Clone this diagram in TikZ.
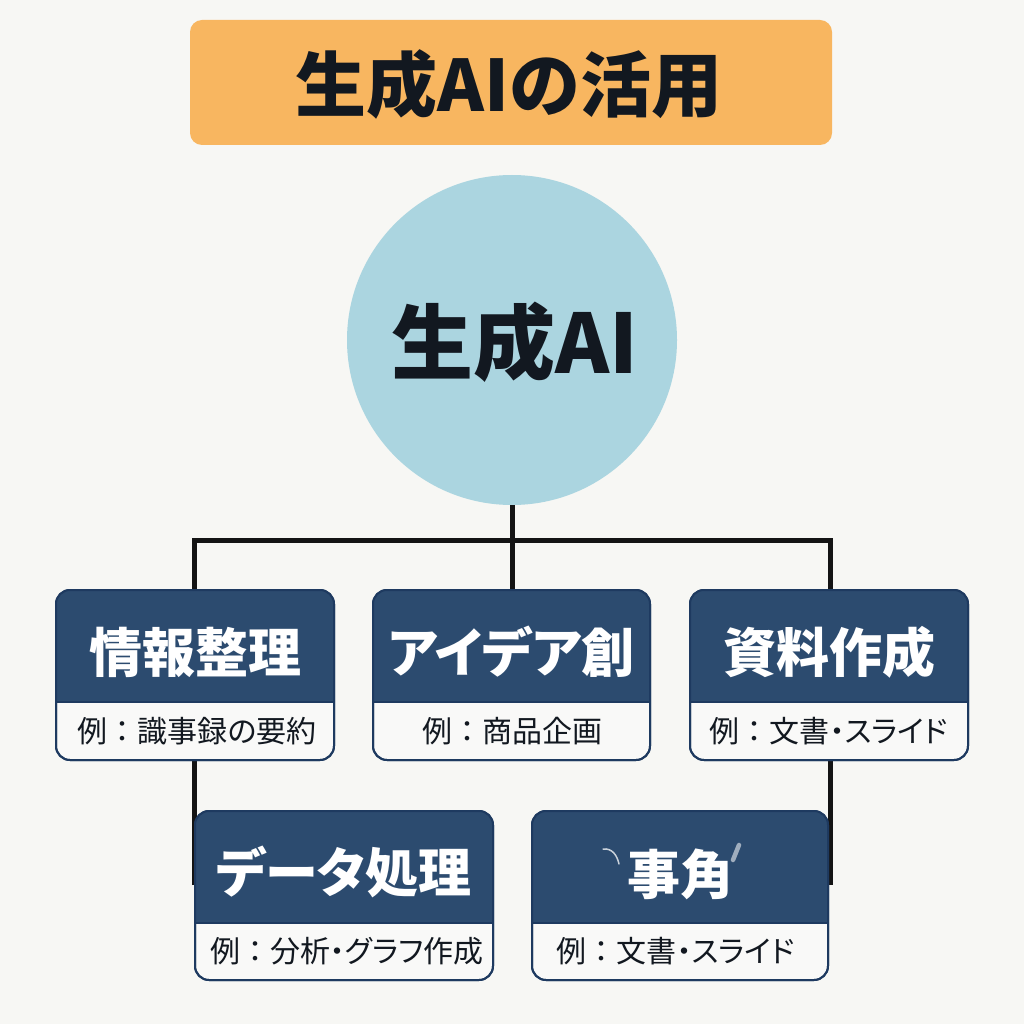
\documentclass[tikz,border=0pt]{standalone}
\usepackage{fontspec}
\newfontfamily\jp{Noto Sans CJK JP}
\newfontfamily\jpp{Noto Sans CJK JP}[RawFeature=+palt]
\definecolor{bgc}{HTML}{F7F7F4}
\definecolor{orangec}{HTML}{F8B660}
\definecolor{circc}{HTML}{ABD5E0}
\definecolor{boxblue}{HTML}{2C4B6F}
\definecolor{borderc}{HTML}{1E3A60}
\definecolor{subw}{HTML}{F9F9F8}
\definecolor{ink}{HTML}{121820}
\definecolor{linec}{HTML}{141414}
\newcommand\colsep{{\jp ：}}
\tikzset{
  conn/.style={draw=linec, line width=5pt, line join=miter},
  boxframe/.style={rectangle, rounded corners=14pt, draw=borderc, line width=2pt, outer sep=0pt, inner sep=0pt},
  boxtitle/.style={text=white, font=\jpp\bfseries\fontsize{53}{53}\selectfont, inner sep=0pt},
  boxsub/.style={text=ink, font=\jpp\fontsize{30}{30}\selectfont, inner sep=0pt},
}
% #1 name, #2 cx, #3 cy, #4 w, #5 h, #6 divider y, #7 title y, #8 sub y, #9 title
\newcommand\catbox[9]{%
  \node[boxframe, fill=subw, minimum width=#4pt, minimum height=#5pt] (#1) at (#2,#3) {};
  \begin{scope}
    \clip (#1.north west) rectangle (#1.east |- 0,#6);
    \fill[boxblue, rounded corners=14pt] (#1.north west) rectangle (#1.south east);
  \end{scope}
  \draw[borderc, line width=1.5pt] (#1.west |- 0,#6) -- (#1.east |- 0,#6);
  \draw[borderc, line width=2pt, rounded corners=14pt] (#1.north west) rectangle (#1.south east);
  \node[boxtitle] (#1-t) at (#2,#7) {#9};
}
\begin{document}
\begin{tikzpicture}[x=1pt,y=-1pt]
\useasboundingbox (0,0) rectangle (1024,1024);
\fill[bgc] (0,0) rectangle (1024,1024);

% title
\node[rectangle, rounded corners=12pt, fill=orangec, minimum width=642pt, minimum height=125pt, inner sep=0pt, outer sep=0pt] (title) at (511,82.5) {};
\node[text=ink, font=\jp\bfseries\fontsize{71}{71}\selectfont, inner sep=0pt] (title-t) at (509,84) {生成AIの活用};

% connector coordinates
\coordinate (jl) at (194,540);
\coordinate (jr) at (830,540);
\coordinate (jc) at (512,540);
\coordinate (el) at (194,885);
\coordinate (er) at (830,885);

% central circle
\node[circle, fill=circc, minimum size=330pt, inner sep=0pt, outer sep=0pt] (ai) at (512,340) {};

% connectors (behind boxes)
\draw[conn] (el) -- (jl) -- (jr) -- (er);
\draw[conn] (ai.south) -- (512,592);

\node[text=ink, font=\jp\bfseries\fontsize{82}{82}\selectfont, inner sep=0pt] (ai-t) at (515,342) {生成AI};

% boxes
\catbox{b1}{195}{675}{278}{170}{702}{652}{731}{情報整理}
\node[boxsub] (b1-s) at (197,731) {例\colsep 識事録の要約};
\catbox{b2}{511.5}{675}{277}{170}{702}{652}{731}{アイデア創}
\node[boxsub] (b2-s) at (512,731) {例\colsep 商品企画};
\catbox{b3}{829}{675}{278}{170}{702}{652}{731}{資料作成}
\node[boxsub] (b3-s) at (829,731) {例\colsep 文書・スライド};
\catbox{b4}{344}{895.5}{298}{169}{923}{872}{951}{データ処理}
\node[boxsub] (b4-s) at (347,951) {例\colsep 分析・グラフ作成};
\catbox{b5}{680}{895.5}{296}{169}{923}{874}{951}{事角}
\node[boxsub] (b5-s) at (676,951) {例\colsep 文書・スライド};

% faint stray strokes in last box
\draw[color=white!75!boxblue, line width=1.5pt, line cap=round] (603,849) .. controls (612,848) and (617,855) .. (619,864);
\draw[color=white!55!boxblue, line width=4.5pt, line cap=round] (739,845) -- (733,860);
\end{tikzpicture}
\end{document}
